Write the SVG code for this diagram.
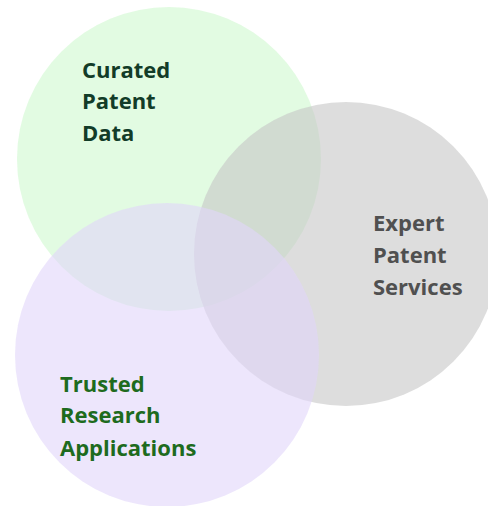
<svg xmlns="http://www.w3.org/2000/svg" width="488" height="506" viewBox="0 0 488 506">
  <style>
    .c { fill-opacity: 0.6; stroke: none; }
    .t { font-family: "Open Sans", "Liberation Sans", sans-serif; font-weight: 700; font-size: 22px; }
  </style>
  <rect width="488" height="506" fill="#ffffff"/>
  <g id="curated">
    <circle class="c" cx="169" cy="159" r="152" fill="#cff8cf"/>
    <text class="t" fill="#123c28"><tspan x="82" y="78">Curated</tspan><tspan x="82" y="109">Patent</tspan><tspan x="82" y="141">Data</tspan></text>
  </g>
  <g id="expert">
    <circle class="c" cx="346" cy="254" r="152" fill="#c6c6c6"/>
    <text class="t" fill="#505050"><tspan x="373" y="231">Expert</tspan><tspan x="373" y="263">Patent</tspan><tspan x="373" y="295">Services</tspan></text>
  </g>
  <g id="trusted">
    <circle class="c" cx="167" cy="355" r="152" fill="#e1d5fa"/>
    <text class="t" fill="#1e6b1e"><tspan x="60" y="392">Trusted</tspan><tspan x="60" y="423">Research</tspan><tspan x="60" y="456">Applications</tspan></text>
  </g>
</svg>
